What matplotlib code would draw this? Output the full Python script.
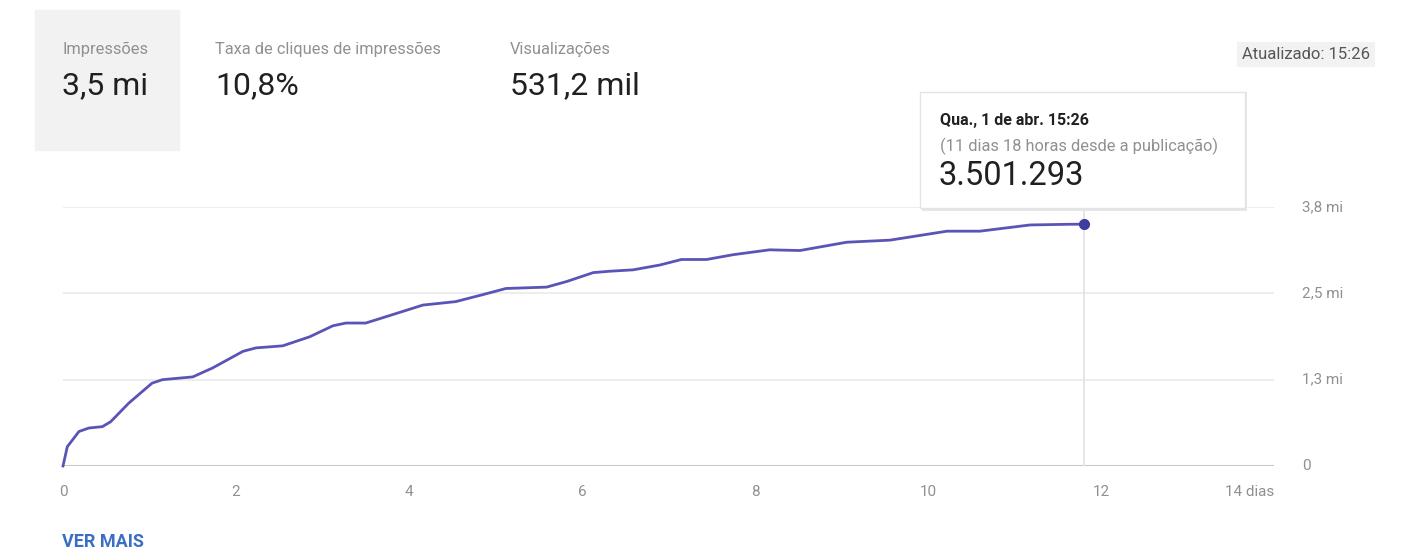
import matplotlib.pyplot as plt
import matplotlib.patches as patches

plt.rcParams['font.family'] = ['Roboto', 'DejaVu Sans']

# Impressões acumuladas (dias desde a publicação, valor em milhões)
days = [0.0, 0.05, 0.185, 0.30, 0.455, 0.55, 0.76, 1.03, 1.15, 1.50, 1.73, 2.08,
        2.23, 2.54, 2.85, 3.12, 3.27, 3.50, 3.73, 4.16, 4.54, 4.85, 5.12, 5.59,
        5.82, 6.13, 6.32, 6.59, 6.90, 7.15, 7.44, 7.75, 8.17, 8.52, 9.06, 9.56,
        10.22, 10.60, 11.18, 11.64, 11.8]
impressions = [0.0, 0.28, 0.50, 0.55, 0.57, 0.64, 0.91, 1.20, 1.25, 1.29, 1.42, 1.66,
               1.71, 1.74, 1.87, 2.03, 2.07, 2.07, 2.16, 2.33, 2.38, 2.48, 2.57, 2.59,
               2.67, 2.80, 2.82, 2.84, 2.91, 2.99, 2.99, 3.06, 3.13, 3.12, 3.24, 3.27,
               3.40, 3.40, 3.49, 3.50, 3.501293]

x_ticks = [0, 2, 4, 6, 8, 10, 12, 14]
x_labels = ['0', '2', '4', '6', '8', '10', '12', '14 dias']
y_ticks = [0, 1.25, 2.5, 3.75]
y_labels = ['0', '1,3 mi', '2,5 mi', '3,8 mi']

metrics = [('Impressões', '3,5 mi'),
           ('Taxa de cliques de impressões', '10,8%'),
           ('Visualizações', '531,2 mil')]

line_color = '#5a54b6'
grey = '#909090'

fig = plt.figure(figsize=(14.01, 5.54), dpi=100)
W, H = 1401, 554

def fx(px):
    return px / W

def fy(py):
    return 1 - py / H

ax = fig.add_axes([fx(63), fy(466), fx(1274) - fx(63), fy(207) - fy(466)])
ax.set_xlim(0, 14)
ax.set_ylim(0, 3.75)

for yt in y_ticks[1:]:
    ax.axhline(yt, color='#ececec', lw=1.3, zorder=1)
ax.axhline(0, color='#c8c8c8', lw=1.5, zorder=1)

ax.plot(days, impressions, color=line_color, lw=2.0, zorder=3, clip_on=False)
ax.axvline(days[-1], color='#e2e2e2', lw=1.2, zorder=2)
ax.plot(days[-1], impressions[-1], 'o', color='#3e3c9c', ms=7, zorder=4, clip_on=False)

for s in ax.spines.values():
    s.set_visible(False)
ax.set_xticks(x_ticks)
ax.set_xticklabels(x_labels)
ax.set_yticks([])
ax.tick_params(axis='x', length=0, pad=14, labelsize=11, colors=grey)
labs = ax.get_xticklabels()
labs[-1].set_horizontalalignment('right')

for yt, lab in zip(y_ticks, y_labels):
    ax.text(1.0231, yt, lab, transform=ax.get_yaxis_transform(), ha='left', va='center',
            fontsize=11, color=grey)

# cabeçalho com as métricas
fig.patches.append(patches.Rectangle((fx(35), fy(150)), fx(179) - fx(35), fy(10) - fy(150),
                                     transform=fig.transFigure, color='#f2f2f2', zorder=0))
for (title, value), px in zip(metrics, [62, 215, 510]):
    fig.text(fx(px), fy(49), title, fontsize=11.8, color=grey, va='center')
    fig.text(fx(px), fy(86), value, fontsize=23, color='#202020', va='center')

fig.text(fx(1370), fy(54), 'Atualizado: 15:26', fontsize=12, color='#555555', ha='right', va='center',
         bbox=dict(boxstyle='square,pad=0.3', fc='#f2f2f2', ec='none'))

# tooltip
fig.patches.append(patches.Rectangle((fx(922), fy(211)), fx(1247) - fx(922), fy(92) - fy(211),
                                     transform=fig.transFigure, fc='#e6e6e6', ec='none', zorder=5))
fig.patches.append(patches.Rectangle((fx(920), fy(208)), fx(1245) - fx(920), fy(92) - fy(208),
                                     transform=fig.transFigure, fc='white', ec='#e4e4e4', lw=1, zorder=6))
fig.text(fx(940), fy(121), 'Qua., 1 de abr. 15:26', fontsize=11.5, fontweight='bold',
         color='#202020', va='center', zorder=7)
fig.text(fx(940), fy(146), '(11 dias 18 horas desde a publicação)', fontsize=11.8,
         color=grey, va='center', zorder=7)
fig.text(fx(939), fy(176), '3.501.293', fontsize=23.5, color='#202020', va='center', zorder=7)

fig.text(fx(62), fy(542), 'VER MAIS', fontsize=13, fontweight='bold', color='#3a6fc4', va='center')

plt.savefig('out.png', dpi=100)
